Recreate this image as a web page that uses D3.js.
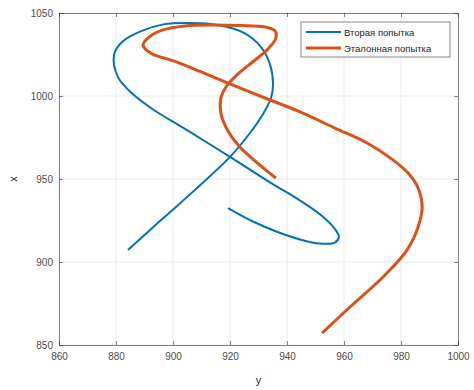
<!DOCTYPE html>
<html>
<head>
<meta charset="utf-8">
<script src="https://cdn.jsdelivr.net/npm/d3@7"></script>
<style>
  body { margin: 0; background: #fff; }
  svg { display: block; font-family: "Liberation Sans", Arial, sans-serif; }
</style>
</head>
<body>
<div id="chart"></div>
<script>
// traces: [y, x] pairs
const secondTry = [
  [884.2, 907.2], [896.5, 926.3], [908.4, 944.5], [920.0, 963.3], [927.0, 977.7],
  [931.6, 989.2], [934.4, 998.8], [935.1, 1007.2], [934.0, 1019.3], [930.9, 1029.5],
  [924.9, 1038.0], [915.8, 1042.8], [906.0, 1044.0], [897.0, 1043.3], [888.4, 1038.8],
  [882.1, 1032.5], [879.3, 1024.7], [880.7, 1011.4], [886.0, 1001.0], [892.5, 992.5],
  [905.5, 978.8], [920.0, 963.3], [934.0, 948.0], [944.6, 937.0],
  [952.3, 927.7], [956.8, 919.9], [958.2, 915.1], [956.8, 911.7], [951.6, 911.1],
  [944.6, 913.6], [935.8, 918.7], [927.7, 924.7], [919.3, 932.5]
];
const reference = [
  [936.1, 950.6], [932.3, 955.8], [928.0, 962.0], [923.3, 969.6], [919.3, 978.9],
  [916.8, 989.8], [916.8, 998.8], [918.6, 1005.4], [922.8, 1013.3], [928.4, 1021.1],
  [933.3, 1028.3], [936.1, 1034.9], [935.8, 1039.2], [932.3, 1041.6], [923.5, 1042.5],
  [913.0, 1042.8], [904.2, 1042.2], [896.5, 1039.8], [891.6, 1035.5], [889.5, 1030.7],
  [892.3, 1025.8], [900.5, 1021.0], [909.5, 1014.8], [919.3, 1007.8],
  [932.3, 998.8], [944.6, 990.4], [956.8, 980.7], [968.1, 971.7], [976.8, 962.0],
  [982.5, 953.6], [986.0, 944.6], [987.4, 933.1], [986.0, 921.1], [982.1, 907.2],
  [973.7, 891.0], [962.1, 872.9], [952.3, 857.2]
];
const seriesNames = ['Вторая попытка', 'Эталонная попытка'];
const seriesColors = ['#0072BD', '#D95319'];
const seriesWidths = [2, 3];
const xTicks = [860, 880, 900, 920, 940, 960, 980, 1000];
const yTicks = [850, 900, 950, 1000, 1050];

const W = 474, H = 390;
const margin = { top: 13, right: 16, bottom: 45, left: 59 };
const width = W - margin.left - margin.right;
const height = H - margin.top - margin.bottom;

const svg = d3.select('#chart').append('svg')
  .attr('width', W)
  .attr('height', H);

const g = svg.append('g')
  .attr('transform', 'translate(' + margin.left + ',' + margin.top + ')');

const xScale = d3.scaleLinear().domain([860, 1000]).range([0, width]);
const yScale = d3.scaleLinear().domain([850, 1050]).range([height, 0]);
const fmt = d3.format('d');

// grid
g.append('g').selectAll('line').data(xTicks).enter().append('line')
  .attr('x1', d => xScale(d)).attr('x2', d => xScale(d))
  .attr('y1', 0).attr('y2', height)
  .attr('stroke', '#ebebeb').attr('stroke-width', 1);
g.append('g').selectAll('line').data(yTicks).enter().append('line')
  .attr('y1', d => yScale(d)).attr('y2', d => yScale(d))
  .attr('x1', 0).attr('x2', width)
  .attr('stroke', '#ebebeb').attr('stroke-width', 1);

// axes, ticks inward, box on
g.append('g')
  .attr('transform', 'translate(0,' + height + ')')
  .call(d3.axisBottom(xScale).tickValues(xTicks).tickFormat(fmt).tickSize(-4).tickPadding(8).tickSizeOuter(0));
g.append('g')
  .call(d3.axisLeft(yScale).tickValues(yTicks).tickFormat(fmt).tickSize(-4).tickPadding(6).tickSizeOuter(0));
g.append('g')
  .call(d3.axisTop(xScale).tickValues(xTicks).tickSize(-4).tickFormat('').tickSizeOuter(0));
g.append('g')
  .attr('transform', 'translate(' + width + ',0)')
  .call(d3.axisRight(yScale).tickValues(yTicks).tickSize(-4).tickFormat('').tickSizeOuter(0));

g.selectAll('.domain').attr('stroke', '#262626').attr('stroke-opacity', 0.55);
g.selectAll('.tick line').attr('stroke', '#262626').attr('stroke-opacity', 0.55);
g.selectAll('.tick text').attr('fill', '#4d4d4d').style('font-size', '10px');

// trajectories
const linefunc = d3.line()
  .x(d => xScale(d[0]))
  .y(d => yScale(d[1]))
  .curve(d3.curveCatmullRom.alpha(0.5));

[secondTry, reference].forEach((pts, i) => {
  g.append('path')
    .attr('class', 'trajectory')
    .attr('d', linefunc(pts))
    .attr('fill', 'none')
    .attr('stroke', seriesColors[i])
    .attr('stroke-width', seriesWidths[i])
    .attr('stroke-linejoin', 'round');
});

// axis labels
svg.append('text')
  .attr('x', margin.left + width / 2)
  .attr('y', 384)
  .attr('text-anchor', 'middle')
  .attr('fill', '#262626')
  .style('font-size', '11px')
  .text('y');
svg.append('text')
  .attr('transform', 'translate(17,' + (margin.top + height / 2) + ') rotate(-90)')
  .attr('text-anchor', 'middle')
  .attr('fill', '#262626')
  .style('font-size', '11px')
  .text('x');

// legend
const legend = svg.append('g').attr('transform', 'translate(301,22)');
legend.append('rect')
  .attr('width', 149).attr('height', 35)
  .attr('fill', '#fff').attr('stroke', '#262626').attr('stroke-opacity', 0.55);
seriesNames.forEach((name, i) => {
  const y = 10 + i * 16;
  legend.append('line')
    .attr('x1', 5).attr('x2', 40).attr('y1', y).attr('y2', y)
    .attr('stroke', seriesColors[i]).attr('stroke-width', seriesWidths[i]);
  legend.append('text')
    .attr('x', 43).attr('y', y + 3.5)
    .attr('fill', '#262626')
    .style('font-size', '9.5px')
    .text(name);
});
</script>
</body>
</html>
